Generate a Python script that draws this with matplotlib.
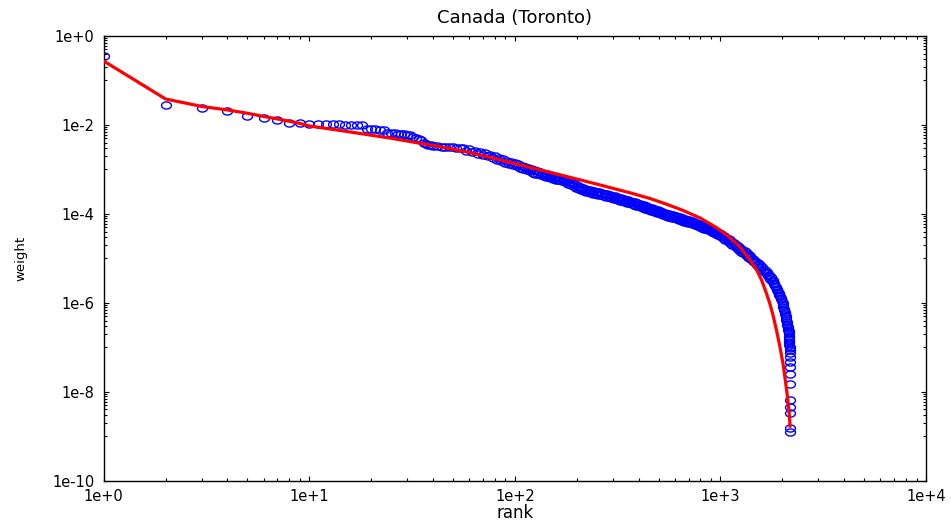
import numpy as np
import matplotlib
matplotlib.use("Agg")
import matplotlib.pyplot as plt
from matplotlib.path import Path
from matplotlib.ticker import FixedLocator, FuncFormatter, NullFormatter

plt.rcParams['font.family'] = ['DejaVu Sans']

# ---------------- data ----------------
title = "Canada (Toronto)"
x_label = "rank"
y_label = "weight"

# observed weights (blue circles): rank and log10(weight)
obs_rank = [
    1, 2, 3, 4, 5, 6, 7, 8, 9, 10, 11, 12, 13, 14, 15, 16, 17, 18, 19, 20,
    21, 22, 23, 24, 25, 26, 27, 28, 29, 30, 31, 32, 33, 34, 35, 36, 37, 38, 39, 40,
    42, 44, 46, 48, 50, 52, 54, 56, 58, 60, 62, 64, 66, 68, 70, 72, 74, 76, 78, 80,
    82, 84, 86, 88, 90, 92, 94, 96, 98,
    100, 102, 104, 106, 108, 110, 112, 114, 116, 118, 120, 122, 124, 126, 128, 130,
    132, 134, 136, 138, 140, 142, 144, 146, 148, 150, 152, 154, 156, 158, 160,
    163, 166, 169, 172, 175, 178, 181, 184, 187, 190, 193, 196, 199, 202, 205, 208,
    211, 214, 217, 220, 223, 226, 229, 232, 235, 238, 241, 244, 247, 250,
    254, 258, 262, 266, 270, 274, 278, 282, 286, 290, 294, 298, 302, 306, 310, 314,
    318, 322, 326, 330, 334, 338, 342, 346, 350,
    355, 360, 365, 370, 375, 380, 385, 390, 395, 400, 405, 410, 415, 420, 425, 430,
    435, 440, 445, 450, 455, 460, 465, 470, 475, 480, 485, 490, 495, 500,
    507, 514, 521, 528, 535, 542, 549, 556, 563, 570, 577, 584, 591, 598, 605, 612,
    619, 626, 633, 640, 647, 654, 661, 668, 675, 682, 689, 696,
    705, 715, 725, 735, 745, 755, 765, 775, 785, 795, 805, 815, 825, 835, 845, 855,
    865, 875, 885, 895, 905, 915, 925, 935, 945, 955, 965, 975, 985, 995,
    1010, 1025, 1040, 1055, 1070, 1085, 1100, 1115, 1130, 1145, 1160, 1175, 1190,
    1205, 1220, 1235, 1250, 1265, 1280, 1295, 1310, 1325, 1340, 1355, 1370, 1385, 1400,
    1420, 1440, 1460, 1480, 1500, 1520, 1540, 1560, 1580, 1600, 1620, 1640, 1660,
    1680, 1700, 1720, 1740, 1760, 1780, 1800,
    1815, 1830, 1845, 1860, 1875, 1890, 1905, 1920, 1935, 1950, 1965, 1980, 1995,
    2005, 2015, 2025, 2035, 2045, 2055, 2065, 2075, 2085, 2095, 2103, 2111, 2118,
    2125, 2132, 2138, 2144, 2149, 2154, 2157, 2160, 2162, 2164, 2166, 2168, 2170,
    2172, 2174,
    2175, 2176, 2177, 2178, 2179, 2180, 2181, 2182, 2183, 2184, 2185,
]
obs_log10_weight = [
    -0.449, -1.558, -1.611, -1.693, -1.805, -1.850, -1.895, -1.955, -1.963, -1.978,
    -1.980, -1.984, -1.986, -1.990, -1.995, -1.998, -2.004, -2.012, -2.085, -2.094,
    -2.100, -2.110, -2.120, -2.170, -2.178, -2.186, -2.195, -2.205, -2.214, -2.222,
    -2.232, -2.280, -2.295, -2.310, -2.330, -2.400, -2.420, -2.440, -2.455, -2.465,
    -2.480, -2.486, -2.492, -2.499, -2.505, -2.511, -2.518, -2.510, -2.586, -2.542,
    -2.619, -2.575, -2.649, -2.603, -2.678, -2.632, -2.706, -2.670, -2.748, -2.706,
    -2.783, -2.741, -2.817, -2.772, -2.846, -2.801, -2.876, -2.830, -2.905,
    -2.860, -2.934, -2.888, -2.962, -2.916, -2.990, -2.943, -3.017, -2.971, -3.045,
    -2.999, -3.073, -3.024, -3.093, -3.042, -3.111,
    -3.060, -3.128, -3.077, -3.146, -3.095, -3.164, -3.112, -3.181, -3.130, -3.198,
    -3.145, -3.213, -3.161, -3.229, -3.176,
    -3.248, -3.200, -3.271, -3.223, -3.294, -3.246, -3.320, -3.275, -3.350, -3.305,
    -3.380, -3.335, -3.410, -3.365, -3.440, -3.395,
    -3.470, -3.422, -3.492, -3.440, -3.506, -3.452, -3.518, -3.465, -3.531, -3.477,
    -3.543, -3.489, -3.555, -3.502,
    -3.570, -3.518, -3.586, -3.533, -3.600, -3.548, -3.615, -3.563, -3.630, -3.577,
    -3.645, -3.592, -3.660, -3.607, -3.674, -3.622,
    -3.689, -3.636, -3.702, -3.649, -3.716, -3.663, -3.730, -3.677, -3.744,
    -3.692, -3.761, -3.709, -3.778, -3.727, -3.795, -3.743, -3.812, -3.760, -3.829,
    -3.777, -3.846, -3.794, -3.863, -3.811, -3.879,
    -3.828, -3.896, -3.845, -3.913, -3.861, -3.928, -3.875, -3.942, -3.889, -3.956,
    -3.903, -3.970, -3.917, -3.984,
    -3.934, -4.004, -3.954, -4.023, -3.973, -4.043, -3.992, -4.059, -4.006, -4.074,
    -4.021, -4.088, -4.035, -4.102, -4.050, -4.117,
    -4.064, -4.131, -4.078, -4.146, -4.093, -4.160, -4.107, -4.173, -4.120, -4.186,
    -4.133, -4.199,
    -4.147, -4.216, -4.165, -4.235, -4.184, -4.253, -4.202, -4.272, -4.221, -4.290,
    -4.240, -4.310, -4.259, -4.329, -4.279, -4.349,
    -4.299, -4.368, -4.318, -4.388, -4.338, -4.408, -4.357, -4.427, -4.377, -4.447,
    -4.400, -4.473, -4.426, -4.499,
    -4.458, -4.537, -4.497, -4.576, -4.536, -4.615, -4.574, -4.654, -4.613, -4.692,
    -4.652, -4.731, -4.690,
    -4.770, -4.729, -4.808, -4.768, -4.846, -4.805, -4.884, -4.843, -4.921, -4.880,
    -4.959, -4.918, -4.996, -4.955,
    -5.040, -5.005, -5.090, -5.055, -5.140, -5.105, -5.189, -5.154, -5.239, -5.204,
    -5.288, -5.253, -5.338,
    -5.303, -5.394, -5.365, -5.457, -5.428, -5.519, -5.490,
    -5.550, -5.583, -5.617, -5.650, -5.683, -5.717, -5.750, -5.783, -5.817, -5.850,
    -5.883, -5.917, -5.966,
    -6.007, -6.047, -6.087, -6.128, -6.168, -6.209, -6.249, -6.290, -6.335, -6.385,
    -6.425, -6.465, -6.500,
    -6.535, -6.570, -6.600, -6.630, -6.655, -6.680, -6.737, -6.794, -6.832, -6.870,
    -6.908, -6.946, -6.984,
    -7.022, -7.060,
    -7.124, -7.213, -7.326, -7.438, -7.596, -7.820, -8.180, -8.337, -8.472, -8.809, -8.899,
]

# fitted curve (red line): rank and log10(weight)
fit_rank = [1, 2, 3, 4, 5, 6, 7, 8, 9, 10, 15, 25, 43, 60, 85, 123, 179, 259, 377,
            454, 547, 659, 795, 958, 1032, 1113, 1244, 1391, 1500, 1592, 1678, 1741,
            1801, 1877, 1948, 2021, 2083, 2137, 2166, 2183]
fit_log10_weight = [-0.562, -1.416, -1.584, -1.663, -1.737, -1.809, -1.865, -1.917,
                    -1.966, -2.022, -2.142, -2.299, -2.488, -2.618, -2.787, -2.973,
                    -3.160, -3.348, -3.546, -3.654, -3.782, -3.924, -4.090, -4.310,
                    -4.416, -4.535, -4.742, -5.034, -5.258, -5.506, -5.798, -6.022,
                    -6.270, -6.629, -6.989, -7.393, -7.843, -8.247, -8.539, -8.809]

x_major = [1e0, 1e1, 1e2, 1e3, 1e4]
y_major = [1e0, 1e-2, 1e-4, 1e-6, 1e-8, 1e-10]

# ---------------- figure ----------------
fig = plt.figure(figsize=(9.51, 5.24), dpi=100)
ax = fig.add_axes([0.1090, 0.0826, 0.8647, 0.8487])

theta = np.linspace(0, 2 * np.pi, 64)
ellipse = Path(np.column_stack([np.cos(theta), 0.72 * np.sin(theta)]), closed=True)

ax.plot(obs_rank, 10.0 ** np.array(obs_log10_weight), linestyle='none',
        marker=ellipse, markersize=7.1, markerfacecolor='none',
        markeredgecolor='#0000ff', markeredgewidth=1.0, zorder=2)
ax.plot(fit_rank, 10.0 ** np.array(fit_log10_weight), color='#ff0000',
        linewidth=2.3, zorder=3, solid_capstyle='butt', solid_joinstyle='round')

ax.set_xscale('log')
ax.set_yscale('log')
ax.set_xlim(1, 1e4)
ax.set_ylim(1e-10, 1)

fmt = FuncFormatter(lambda v, p: "1e%+d" % int(round(np.log10(v))))
ax.xaxis.set_major_locator(FixedLocator(x_major))
ax.yaxis.set_major_locator(FixedLocator(y_major))
ax.xaxis.set_major_formatter(fmt)
ax.yaxis.set_major_formatter(fmt)
x_minor = [j * 10.0 ** e for e in range(0, 4) for j in range(2, 10)]
y_minor = [j * 10.0 ** e for e in (-1, -3, -5, -7, -9) for j in range(1, 10)]
ax.xaxis.set_minor_locator(FixedLocator(x_minor))
ax.yaxis.set_minor_locator(FixedLocator(y_minor))
ax.xaxis.set_minor_formatter(NullFormatter())
ax.yaxis.set_minor_formatter(NullFormatter())

ax.tick_params(which='both', direction='in', top=True, right=True,
               labelsize=10.5, colors='black', width=0.8)
ax.tick_params(which='major', length=3.8)
ax.tick_params(which='minor', length=2.0)
ax.tick_params(axis='x', which='major', pad=6)
ax.tick_params(axis='y', which='major', pad=6.5)

for s in ax.spines.values():
    s.set_linewidth(1.0)
    s.set_color('black')

ax.set_title(title, fontsize=13, pad=9)
ax.set_xlabel(x_label, fontsize=12, labelpad=0)
ax.set_ylabel(y_label, fontsize=9.5, labelpad=18)

fig.savefig("out.png", dpi=100, facecolor='white')
